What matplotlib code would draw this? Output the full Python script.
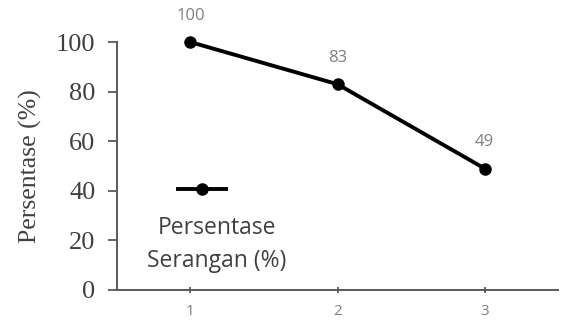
import matplotlib
matplotlib.use('Agg')
import matplotlib.pyplot as plt
from matplotlib.lines import Line2D

# data
categories = [1, 2, 3]
persentase = [100, 83, 49]
yticks = [0, 20, 40, 60, 80, 100]

fig = plt.figure(figsize=(5.65, 3.24), dpi=100)
ax = fig.add_axes([0.207, 0.105, 0.781, 0.765])

line, = ax.plot(categories, persentase, color='black', lw=2.8,
                marker='o', markersize=8, clip_on=False, zorder=3)

# data labels above points
for x, y in zip(categories, persentase):
    ax.annotate(str(y), (x, y), xytext=(0, 19), textcoords='offset points',
                ha='center', va='center', fontsize=12, color='#7f7f7f',
                family='Open Sans')

ax.set_xlim(0.5, 3.5)
ax.set_ylim(0, 100)
ax.set_xticks(categories)
ax.set_xticklabels([str(c) for c in categories], family='Open Sans',
                   fontsize=11, color='#7f7f7f')
ax.set_yticks(yticks)
ax.set_yticklabels([str(t) for t in yticks], family='Liberation Serif',
                   fontsize=19, color='#404040')
ax.set_ylabel('Persentase (%)', family='Liberation Serif', fontsize=18.5,
              color='#404040', labelpad=10)

for side in ['top', 'right']:
    ax.spines[side].set_visible(False)
for side in ['left', 'bottom']:
    ax.spines[side].set_color('#595959')
    ax.spines[side].set_linewidth(1.4)
ax.tick_params(axis='y', direction='out', length=6.5, width=1.3, color='#595959', pad=9)
ax.tick_params(axis='x', direction='inout', length=4, width=1.3, color='#595959', pad=8)

# legend: handle on top, label below
leg = ax.legend(handles=[Line2D([], [], color='black', lw=2.8, marker='o', markersize=8)],
                labels=[''], loc='center', bbox_to_anchor=(0.205, 0.405),
                frameon=False, handlelength=3.5)
ax.text(0.226, 0.183, 'Persentase\nSerangan (%)', transform=ax.transAxes,
        ha='center', va='center', fontsize=16.5, color='#404040',
        family='Open Sans', linespacing=1.5)

fig.savefig('out.png', dpi=100)
